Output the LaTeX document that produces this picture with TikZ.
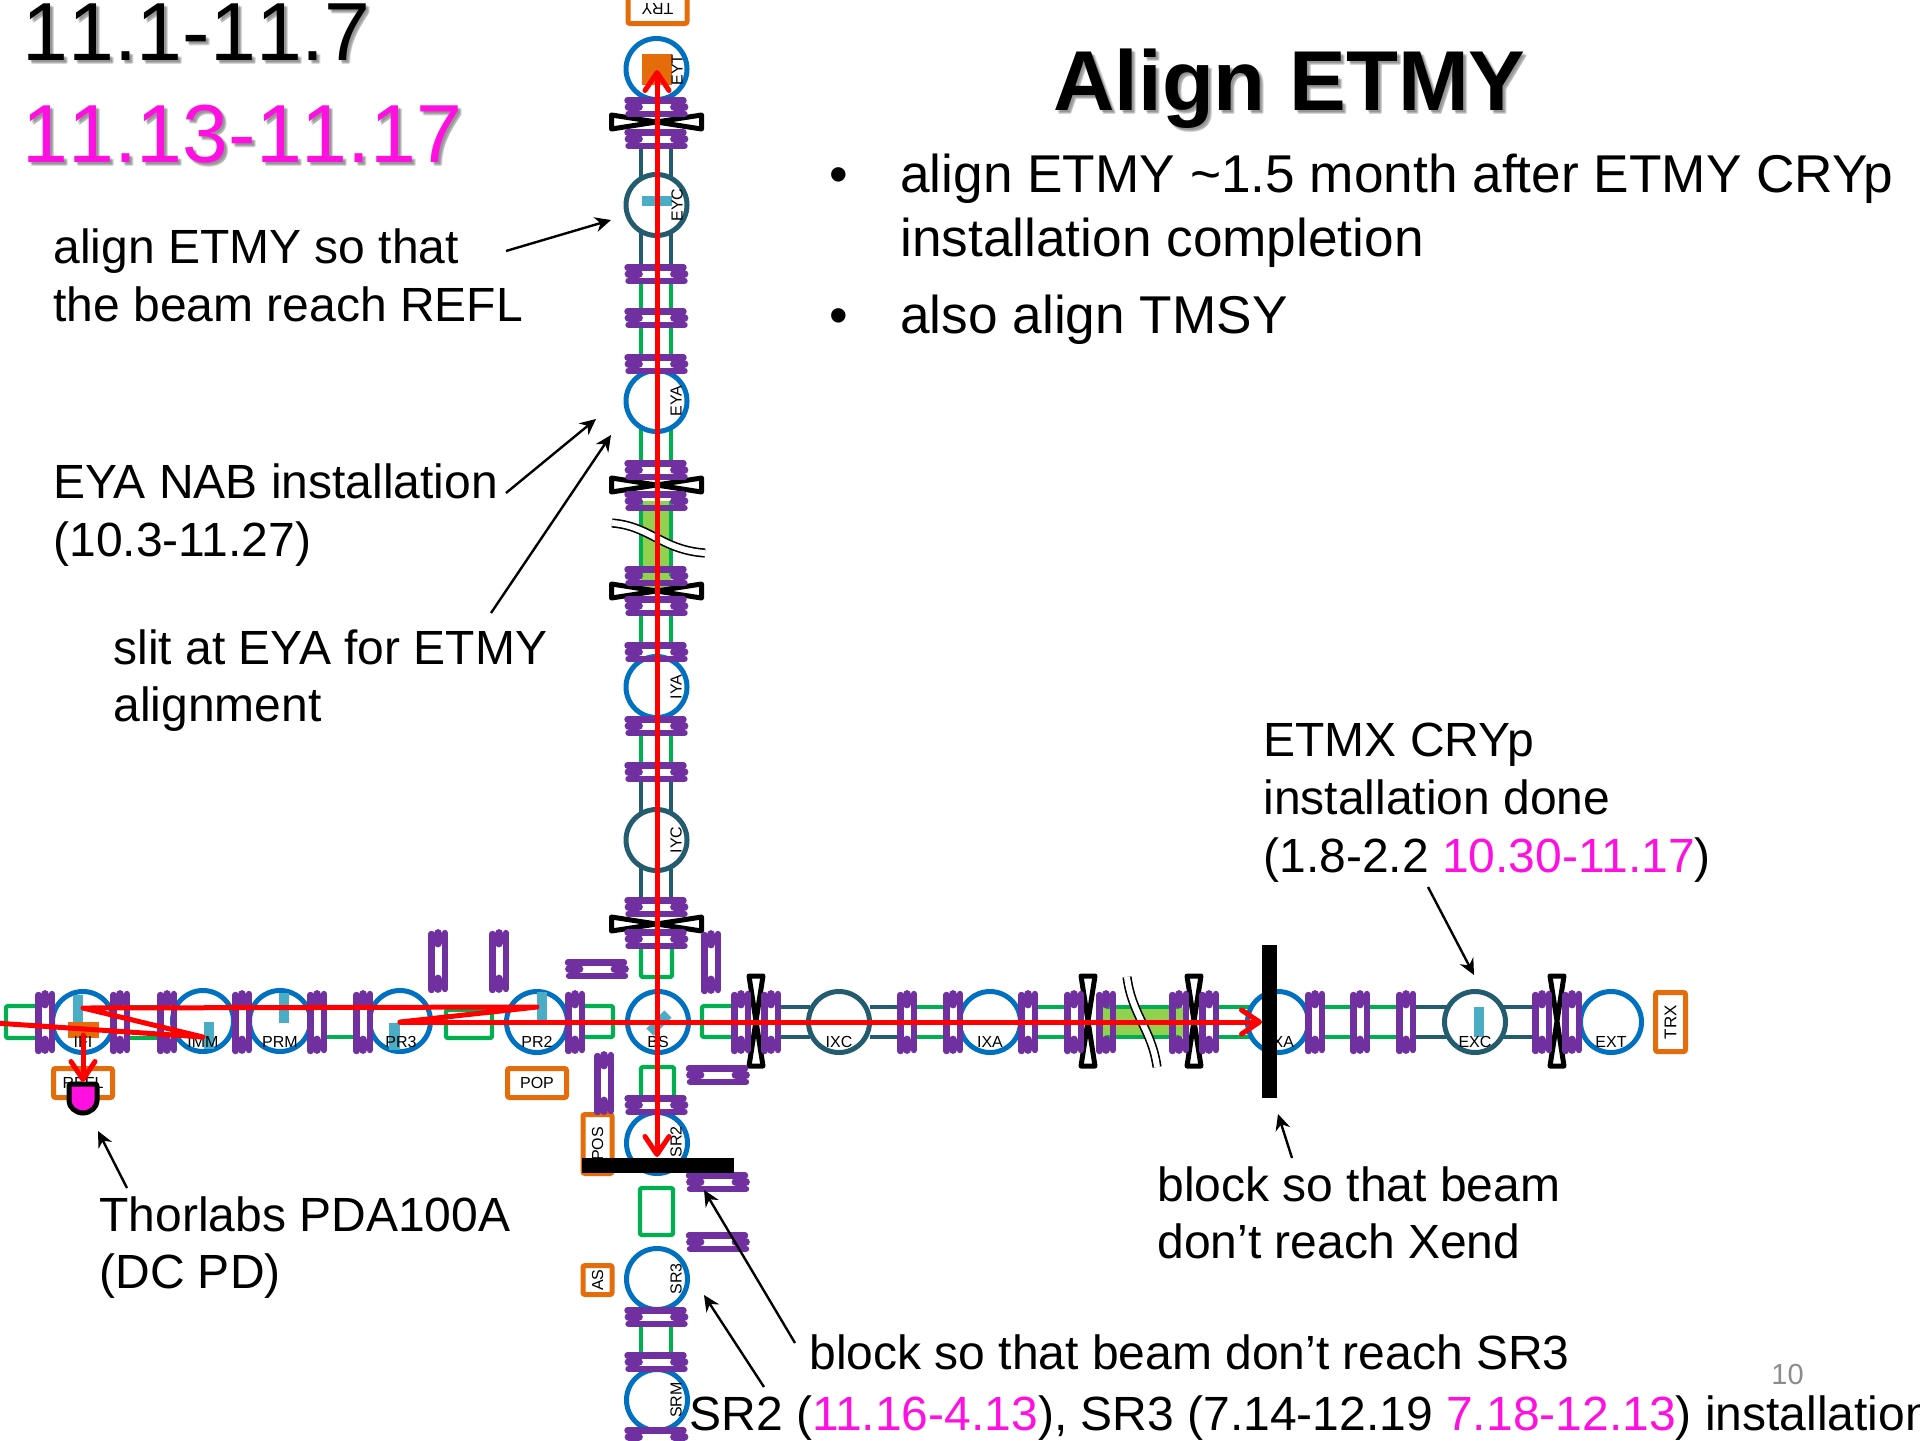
\documentclass[tikz,border=0pt]{standalone}
\usepackage{fontspec}
\setmainfont{Liberation Sans}
\newfontfamily\nokernfont[Kerning=Off]{Liberation Sans}
\usetikzlibrary{arrows.meta}
\definecolor{cblue}{HTML}{0070C0}
\definecolor{cteal}{HTML}{235C6E}
\definecolor{cgreen}{HTML}{00B050}
\definecolor{clight}{HTML}{92D050}
\definecolor{cpurple}{HTML}{7030A0}
\definecolor{corange}{HTML}{E46C0A}
\definecolor{ccyan}{HTML}{4BACC6}
\definecolor{cmag}{HTML}{FF10E0}
\definecolor{cgrey}{HTML}{8C8C8C}
\tikzset{
  opticb/.style={circle,draw=cblue,fill=white,line width=2.5pt,minimum size=30.5pt,inner sep=0pt},
  optict/.style={circle,draw=cteal,fill=white,line width=2.5pt,minimum size=30.5pt,inner sep=0pt},
  pipe/.style={line width=2.2pt},
  greenpipe/.style={pipe,draw=cgreen,line join=round},
  tealpipe/.style={pipe,draw=cteal},
  tag/.style={font=\fontsize{8}{9}\selectfont,inner sep=0pt},
  boxo/.style={draw=corange,fill=white,line width=2.5pt,rounded corners=1pt,inner sep=0pt},
  bar/.style={fill=ccyan,draw=none},
  flrow/.style={draw=cpurple,line width=3.2pt,line cap=round},
  flmid/.style={draw=cpurple,line width=4.4pt,line cap=round},
  valvepoly/.style={draw=black,fill=white,line width=2.5pt,line join=round},
  beam/.style={draw=red,line width=2.5pt,line cap=round,line join=round},
  beamhead/.style={beam,-{Straight Barb[length=9pt,width=12pt,line width=2.5pt,round]}},
  note/.style={draw=black,line width=1.2pt,-{Stealth[length=8pt,width=7.5pt]}},
  blockbar/.style={fill=black,draw=none},
  lbl/.style={anchor=base west,inner sep=0pt,font=\fontsize{24}{28}\selectfont},
  bul/.style={anchor=base west,inner sep=0pt,font=\fontsize{26.6}{32}\selectfont},
  flangeh/.pic={
    \fill[cpurple] (-28,-7) rectangle (-18,7) (18,-7) rectangle (28,7);
    \draw[flrow] (-29,-6.7)--(27,-6.7) (-28,6.7)--(28,6.7);
    \draw[flmid] (-27.5,0)--(-18,0) (18,0)--(27.5,0);
  },
  valveh/.pic={\draw[valvepoly] (-45,-7)--(45,7)--(45,-7)--(-45,7)--cycle;},
  breakcurve/.style={line width=4.6pt,draw=black},
  breakinner/.style={line width=3pt,draw=white},
}
\newcommand{\lblat}[4]{\node[lbl] (#1) at (#2,#3) {#4};}
\newcommand{\shadowtxt}[6]{% name,x,y,colour,font,text
  \node[anchor=base west,inner sep=0pt,font=#5,text=black,opacity=.16] (#1a) at (#2+2,#3+2) {#6};
  \node[anchor=base west,inner sep=0pt,font=#5,text=black,opacity=.16] (#1b) at (#2+3,#3+4) {#6};
  \node[anchor=base west,inner sep=0pt,font=#5,text=black,opacity=.16] (#1c) at (#2+4,#3+3) {#6};
  \node[anchor=base west,inner sep=0pt,font=#5,text=#4] (#1) at (#2,#3) {#6};}
\begin{document}
\begin{tikzpicture}[x=0.5pt,y=-0.5pt]
\useasboundingbox (0,0) rectangle (1920,1440);
\begin{scope}
\clip (0,0) rectangle (1920,1440);
\fill[white] (0,0) rectangle (1920,1440);
% light green fills
\fill[clight] (641,501) rectangle (671,590);
\fill[clight] (1098,1007) rectangle (1184,1037);
% vertical pipes
\foreach \ya/\yb in {148/180,230/265,781/815,865/898}{\draw[tealpipe] (641,\ya)--(641,\yb) (671,\ya)--(671,\yb);}
\foreach \ya/\yb in {283/309,327/355,425/461,501/576,615/643,735/763,1326/1353}{\draw[greenpipe] (641,\ya)--(641,\yb) (671,\ya)--(671,\yb);}
% horizontal pipes
\foreach \xa/\xb in {780/810,870/898,1415/1450,1500/1533}{\draw[tealpipe] (\xa,1007)--(\xb,1007) (\xa,1037)--(\xb,1037);}
\foreach \xa/\xb in {916/944,1037/1065,1106/1179,1218/1255,1324/1351,1369/1397,326/354}{\draw[greenpipe] (\xa,1007)--(\xb,1007) (\xa,1037)--(\xb,1037);}
\draw[greenpipe] (129,1007)--(158,1007) (129,1038)--(158,1038);
% green boxes
\draw[greenpipe,rounded corners=1pt] (36,1006)--(6,1006)--(6,1038)--(36,1038);
\draw[greenpipe,rounded corners=1pt] (446,1010) rectangle (492,1038);
\draw[greenpipe,rounded corners=1pt] (584,1006)--(613,1006)--(613,1037)--(584,1037);
\draw[greenpipe,rounded corners=1pt] (732,1006)--(702,1006)--(702,1037)--(732,1037);
\draw[greenpipe,rounded corners=1pt] (641,948)--(641,977)--(672,977)--(672,948);
\draw[greenpipe,rounded corners=1pt] (641,1096)--(641,1067)--(674,1067)--(674,1096);
\draw[greenpipe,rounded corners=1pt] (640,1188) rectangle (673,1235);
% optics
\foreach \nm/\xx/\yy in {EYT/656.5/69,EYA/656.5/401,IYA/656.5/687,BS/658/1022,SRtwo/657/1143,SRthree/657/1279,SRM/657/1400,IFI/83/1022,IMM/203/1021,PRM/280/1021,PRthree/400/1021,PRtwo/537/1022,IXA/990/1022,EXA/1278/1022,EXT/1611/1022}{\node[opticb] (\nm) at (\xx,\yy) {};}
\foreach \nm/\xx/\yy in {EYC/656.5/205,IYC/656.5/840,IXC/839/1022,EXC/1475/1022}{\node[optict] (\nm) at (\xx,\yy) {};}
% mirrors
\fill[corange] (642,54) rectangle (672,85);
\fill[bar] (642,196) rectangle (672,206);
\fill[bar] (73,995) rectangle (83,1023);
\fill[corange] (68,1022) rectangle (99,1038);
\fill[bar] (204,1022) rectangle (214,1049);
\fill[bar] (279,993) rectangle (289,1023);
\fill[bar] (389,1023) rectangle (400,1050);
\fill[bar] (537,992) rectangle (547,1020);
\fill[bar] (1474,1007) rectangle (1484,1037);
\draw[ccyan,line width=5pt] (650,1032)--(668,1014);
% tags on optics
\foreach \nm/\xx/\yy/\tx in {EYTl/677/70/EYT,EYCl/677/205/EYC,EYAl/676/401/EYA,IYAl/676/687/IYA,IYCl/676/840/IYC,SRtwol/676/1142/SR2,SRthreel/676/1279/SR3,SRMl/676/1400/SRM}{\node[tag,rotate=90] (\nm) at (\xx,\yy) {\tx};}
\foreach \nm/\xx/\yy/\tx in {IFIl/83/1042/IFI,IMMl/203/1042/IMM,PRMl/280/1042/PRM,PRthreel/401/1042/PR3,PRtwol/537/1042/PR2,BSl/658/1042/BS,IXCl/839/1042/IXC,IXAl/990/1042/IXA,EXAl/1278/1042/EXA,EXCl/1475/1042/EXC,EXTl/1611/1042/EXT}{\node[tag] (\nm) at (\xx,\yy) {\tx};}
% boxes
\node[boxo,tag,minimum width=29.5pt,minimum height=14.5pt] (TRY) at (657.5,9) {\rotatebox{180}{TRY}};
\node[boxo,tag,minimum width=29.5pt,minimum height=14.5pt] (REFL) at (83,1083) {REFL};
\node[boxo,tag,minimum width=29.5pt,minimum height=14.5pt] (POP) at (537,1083) {POP};
\node[boxo,tag,rotate=90,minimum width=29.5pt,minimum height=14.5pt] (POS) at (597.5,1144) {POS};
\node[boxo,tag,rotate=90,minimum width=14.5pt,minimum height=14.5pt] (AS) at (597.5,1280) {AS};
\node[boxo,tag,rotate=90,minimum width=29.5pt,minimum height=15pt,font=\fontsize{8.5}{9}\selectfont] (TRX) at (1670.5,1022) {TRX};
% valves
\foreach \yy in {122,485,591,924}{\pic at (656.5,\yy) {valveh};}
\foreach \xx in {756,1088,1194,1557}{\pic[rotate=90] at (\xx,1021) {valveh};}
% flanges on the vertical axis
\foreach \yy in {107,139,274,318,364,470,501,576,606,652,726,772,907,939,1105,1317,1362,1437}{\pic at (656.5,\yy) {flangeh};}
% flanges on the horizontal axis
\foreach \xx in {45,120,167,242,317,363,575,741,771,907,953,1028,1074,1106,1179,1209,1315,1360,1406,1542,1572}{\pic[rotate=90] at (\xx,1022) {flangeh};}
% stray flanges
\foreach \xx/\yy in {438/961,499/961,711/962,604/1083}{\pic[rotate=90] at (\xx,\yy) {flangeh};}
\foreach \xx/\yy in {597/969,718/1075,718/1182,718/1242}{\pic at (\xx,\yy) {flangeh};}
% breaks
\draw[breakcurve] (612,523) .. controls (650,526) and (662,550) .. (705,553);
\draw[breakinner] (612,523) .. controls (650,526) and (662,550) .. (705,553);
\draw[breakcurve] (1127,977) .. controls (1132,1015) and (1152,1030) .. (1157,1067);
\draw[breakinner] (1127,977) .. controls (1132,1015) and (1152,1030) .. (1157,1067);
% detector
\path[draw=black,fill=cmag,line width=2.5pt,line join=round,rounded corners=1pt] (69,1084)--(97,1084)--(97,1099) arc[start angle=0,end angle=180,radius=14]--cycle;
\coordinate (pdtop) at (83,1082);
% beams
\coordinate (bIn) at (-5,1023);
\coordinate (bIMM) at (203,1037);
\coordinate (bIFI) at (83,1008);
\coordinate (bPRtwo) at (537,1007);
\coordinate (bPRthree) at (400,1022);
\coordinate (bXA) at (1262,1022);
\coordinate (bREFLa) at (83,1035);
\coordinate (bTop) at (657,70);
\coordinate (bBot) at (657,1157);
\draw[beam] (bIn)--(bIMM)--(bIFI)--(bPRtwo)--(bPRthree);
\draw[beamhead] (bPRthree)--(bXA);
\draw[beamhead] (bREFLa)--(pdtop);
\draw[beamhead,{Straight Barb[length=9pt,width=12pt,line width=2.5pt,round]}-{Straight Barb[length=9pt,width=12pt,line width=2.5pt,round]}] (bTop)--(bBot);
% blocks
\fill[blockbar] (582,1158) rectangle (734,1173);
\fill[blockbar] (1262,945) rectangle (1277,1098);
% headings
\shadowtxt{dateA}{22}{60}{black}{\nokernfont\fontsize{41.2}{48}\selectfont}{11.1-11.7}
\shadowtxt{dateB}{22}{162}{cmag}{\nokernfont\fontsize{41.2}{48}\selectfont}{11.13-11.17}
\shadowtxt{title}{1053}{110}{black}{\fontsize{42.5}{50}\selectfont\bfseries}{Align ETMY}
% bullets
\node[bul] (bdot1) at (829,192) {•};
\node[bul] (bul1) at (900,192) {align ETMY \textasciitilde1.5 month after ETMY CRYp};
\node[bul] (bul1b) at (900,256) {installation completion};
\node[bul] (bdot2) at (829,333) {•};
\node[bul] (bul2) at (900,333) {also align TMSY};
% labels
\lblat{la}{53}{263}{align ETMY so that}
\lblat{lb}{53}{321}{the beam reach REFL}
\lblat{lc}{53}{498}{EYA NAB installation}
\lblat{ld}{53}{556}{(10.3-11.27)}
\lblat{le}{113}{664}{slit at EYA for ETMY}
\lblat{lf}{113}{721}{alignment}
\lblat{lg}{1263}{756}{ETMX CRYp}
\lblat{lh}{1263}{814}{installation done}
\lblat{li}{1263}{872}{(1.8-2.2 \textcolor{cmag}{10.30-11.17})}
\lblat{lj}{1157}{1201}{block so that beam}
\lblat{lk}{1157}{1258}{don’t reach Xend}
\lblat{ll}{99}{1231}{Thorlabs PDA100A}
\lblat{lm}{99}{1288}{(DC PD)}
\lblat{ln}{809}{1369}{block so that beam don’t reach SR3}
\lblat{lo}{689}{1430}{SR2 (\textcolor{cmag}{11.16-4.13}), SR3 (7.14-12.19 \textcolor{cmag}{7.18-12.13}) installation}
\node[anchor=base west,inner sep=0pt,font=\fontsize{14.5}{16}\selectfont,text=cgrey] (pageno) at (1771,1384) {10};
% note arrows
\coordinate (a1) at (506,251); \coordinate (t1) at (611,220);
\coordinate (a2) at (506,493); \coordinate (t2) at (596,419);
\coordinate (a3) at (491,613); \coordinate (t3) at (611,435);
\coordinate (a4) at (1428,887); \coordinate (t4) at (1474,975);
\coordinate (a5) at (127,1188); \coordinate (t5) at (98,1131);
\coordinate (a6) at (1292,1158); \coordinate (t6) at (1278,1114);
\coordinate (a7) at (795,1343); \coordinate (t7) at (704,1190);
\coordinate (a8) at (764,1387); \coordinate (t8) at (704,1295);
\foreach \n in {1,...,8}{\draw[note] (a\n)--(t\n);}
\end{scope}
\end{tikzpicture}
\end{document}
